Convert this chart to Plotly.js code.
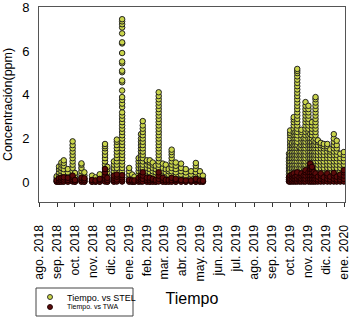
<!DOCTYPE html>
<html><head><meta charset="utf-8">
<script src="https://cdn.plot.ly/plotly-3.0.1.min.js"></script>
<style>html,body{margin:0;padding:0;background:#fff;}#chart{width:352px;height:317px;}</style>
</head><body><div id="chart"></div>
<script>
const tickVals = ['2018-08-01','2018-09-01','2018-10-01','2018-11-01','2018-12-01','2019-01-01','2019-02-01','2019-03-01','2019-04-01','2019-05-01','2019-06-01','2019-07-01','2019-08-01','2019-09-01','2019-10-01','2019-11-01','2019-12-01','2020-01-01'];
const tickLabels = ['ago. 2018','sep. 2018','oct. 2018','nov. 2018','dic. 2018','ene. 2019','feb. 2019','mar. 2019','abr. 2019','may. 2019','jun. 2019','jul. 2019','ago. 2019','sep. 2019','oct. 2019','nov. 2019','dic. 2019','ene. 2020'];
const seriesNames = ['Tiempo. vs STEL','Tiempo. vs TWA'];

const sampleDates = ['2018-08-31','2018-09-04','2018-09-08','2018-09-12','2018-09-19','2018-09-27','2018-10-01','2018-10-12','2018-10-17','2018-10-30','2018-11-05','2018-11-12','2018-11-21','2018-11-25','2018-12-06','2018-12-11','2018-12-20','2019-01-01','2019-01-06','2019-01-10','2019-01-17','2019-01-21','2019-01-24','2019-01-31','2019-02-05','2019-02-10','2019-02-15','2019-02-20','2019-02-27','2019-03-04','2019-03-09','2019-03-14','2019-03-21','2019-03-30','2019-04-07','2019-04-16','2019-04-24','2019-05-01','2019-05-06',
'2019-09-29','2019-10-01','2019-10-04','2019-10-07','2019-10-10','2019-10-13','2019-10-17','2019-10-20','2019-10-24','2019-10-27','2019-11-01','2019-11-04','2019-11-07','2019-11-10','2019-11-13','2019-11-17','2019-11-22','2019-11-27','2019-12-03','2019-12-08','2019-12-14','2019-12-19','2019-12-25','2019-12-31'];

const stelValues = [
[0.03,0.12,0.2,0.27],
[0.03,0.15,0.3,0.45,0.6,0.72],
[0.05,0.2,0.35,0.5,0.65,0.8,0.9],
[0.03,0.15,0.3,0.45,0.6,0.75,0.88,1.0],
[0.05,0.18,0.3,0.45,0.6],
[0.05,0.2,0.35,0.5,0.65,0.8,0.95,1.1,1.25,1.4,1.55,1.7,1.87],
[0.03,0.15,0.3,0.42],
[0.05,0.2,0.35,0.5,0.65,0.8,0.86],
[0.03,0.15,0.3,0.45],
[0.03,0.15,0.3],
[0.03,0.12,0.22],
[0.03,0.15,0.3,0.36],
[0.05,0.2,0.35,0.5,0.65,0.8,0.95,1.1,1.25,1.4,1.55,1.65,1.75],
[0.03,0.15,0.3,0.45,0.6,0.7],
[0.05,0.2,0.35,0.5,0.65,0.8,0.95],
[0.05,0.2,0.35,0.5,0.65,0.8,0.95,1.1,1.25,1.4,1.55,1.7,1.85,1.95],
[0.05,0.2,0.35,0.5,0.65,0.8,0.95,1.1,1.25,1.4,1.55,1.7,1.85,2.0,2.15,2.3,2.45,2.6,2.75,2.9,3.05,3.2,3.44,3.6,3.77,3.9,4.2,4.58,4.66,5.04,5.11,5.45,5.53,5.92,6.36,6.41,6.82,7.09,7.24,7.37,7.47],
[0.05,0.2,0.35,0.5,0.65],
[0.03,0.15,0.3,0.35],
[0.03,0.15,0.25],
[0.05,0.2,0.35,0.5,0.65,0.8,0.95,1.1],
[0.05,0.2,0.35,0.5,0.65,0.8,0.95,1.1,1.25,1.4,1.55,1.7,1.85,2.0,2.2],
[0.05,0.2,0.35,0.5,0.65,0.8,0.95,1.1,1.25,1.4,1.55,1.7,1.85,2.0,2.15,2.3,2.45,2.6,2.8],
[0.05,0.2,0.35,0.5,0.65,0.8,0.95,1.0],
[0.03,0.15,0.3,0.45,0.6,0.75,0.9,1.0],
[0.05,0.2,0.35,0.5,0.65,0.8,0.9],
[0.03,0.15,0.3,0.45,0.6,0.75],
[0.05,0.2,0.35,0.5,0.65,0.8,0.95,1.1,1.25,1.4,1.55,1.7,1.85,2.0,2.15,2.3,2.45,2.6,2.75,2.9,3.05,3.2,3.35,3.5,3.65,3.8,3.95,4.12],
[0.05,0.2,0.35,0.5,0.65,0.85],
[0.03,0.15,0.3,0.45,0.6,0.8],
[0.05,0.2,0.35,0.5,0.6],
[0.05,0.2,0.35,0.5,0.65,0.8,0.95,1.1,1.25,1.38,1.49],
[0.03,0.15,0.3,0.45,0.6,0.75,0.9],
[0.05,0.2,0.35,0.5,0.65,0.85],
[0.03,0.15,0.3,0.45,0.6],
[0.05,0.2,0.35,0.5],
[0.03,0.15,0.3,0.45,0.6,0.75,0.88],
[0.05,0.2,0.35,0.5],
[0.03,0.15,0.3],
[0.05,0.2,0.35,0.5,0.65,0.8,0.95,1.1,1.3],
[0.05,0.2,0.35,0.5,0.65,0.8,0.95,1.1,1.25,1.4,1.55,1.7,1.85,2.0,2.15,2.25,2.37],
[0.05,0.2,0.35,0.5,0.65,0.8,0.95,1.1,1.25,1.4,1.55,1.7,1.8],
[0.05,0.2,0.35,0.5,0.65,0.8,0.95,1.1,1.25,1.4,1.55,1.7,1.85,2.0,2.15,2.3,2.45,2.6,2.75,2.88,2.98],
[0.05,0.2,0.35,0.5,0.65,0.8,0.95,1.1,1.25,1.4,1.55,1.7,1.85,2.0,2.15,2.3],
[0.05,0.2,0.35,0.5,0.65,0.8,0.95,1.1,1.25,1.4,1.55,1.7,1.85,2.0,2.15,2.3,2.45,2.6,2.75,2.9,3.05,3.2,3.35,3.5,3.65,3.8,3.95,4.1,4.25,4.4,4.55,4.7,4.85,5.0,5.1,5.19],
[0.05,0.2,0.35,0.5,0.65,0.8,0.95,1.1,1.25,1.4,1.55,1.6],
[0.05,0.2,0.35,0.5,0.65,0.8,0.95,1.1,1.25,1.4,1.55,1.7,1.85,2.0,2.15,2.3,2.4],
[0.05,0.2,0.35,0.5,0.65,0.8,0.95,1.1,1.25,1.4,1.55,1.7,1.85,2.0],
[0.05,0.2,0.35,0.5,0.65,0.8,0.95,1.1,1.25,1.4,1.55,1.7,1.85,2.0,2.15,2.3,2.45,2.6,2.75,2.9,3.05,3.2,3.35,3.5,3.67],
[0.05,0.2,0.35,0.5,0.65,0.8,0.95,1.1,1.25,1.4,1.55,1.7,1.85,2.0,2.15,2.3,2.45,2.6,2.75,2.9,3.05,3.2,3.35,3.5],
[0.05,0.2,0.35,0.5,0.65,0.8,0.95,1.1,1.25,1.4,1.55,1.7,1.85,2.0,2.2],
[0.05,0.2,0.35,0.5,0.65,0.8,0.95,1.1,1.25,1.4,1.55,1.7,1.85,2.0,2.15,2.3,2.45,2.6,2.75],
[0.05,0.2,0.35,0.5,0.65,0.8,0.95,1.1,1.25,1.4,1.55,1.7,1.9],
[0.05,0.2,0.35,0.5,0.65,0.8,0.95,1.1,1.25,1.4,1.55,1.7,1.85,2.0,2.15,2.3,2.45,2.6,2.75,2.9,3.05,3.2,3.35,3.5,3.65,3.8,3.9],
[0.05,0.2,0.35,0.5,0.65,0.8,0.95,1.1,1.25,1.4,1.55,1.7,1.85,1.92],
[0.05,0.2,0.35,0.5,0.65,0.8,0.95,1.1,1.25,1.4,1.55,1.7,1.8],
[0.05,0.2,0.35,0.5,0.65,0.8,0.95,1.1,1.25,1.4,1.55,1.65,1.75],
[0.05,0.2,0.35,0.5,0.65,0.8,0.95,1.1,1.25,1.4,1.55,1.65,1.75],
[0.05,0.2,0.35,0.5,0.65,0.8,0.95,1.1,1.25,1.4,1.5],
[0.05,0.2,0.35,0.5,0.65,0.8,0.95,1.1,1.25,1.4,1.55,1.7,1.85,2.0,2.2],
[0.05,0.2,0.35,0.5,0.65,0.8,0.95,1.1,1.25,1.4,1.55,1.7,1.9],
[0.05,0.2,0.35,0.5,0.65,0.8,0.95,1.1,1.3],
[0.05,0.2,0.35,0.5,0.65,0.8,0.95,1.1,1.25,1.38]
];

const twaValues = [
[0.02,0.08],[0.02,0.1,0.18],[0.02,0.1,0.2],[0.03,0.12,0.22],[0.02,0.1,0.2],[0.03,0.12,0.22,0.3],[0.02,0.1],[0.02,0.1,0.2],[0.02,0.1,0.18],[0.02,0.1],[0.02,0.08],[0.02,0.1,0.15],[0.03,0.15,0.3,0.45,0.6],[0.02,0.1,0.2],[0.02,0.1,0.2,0.3],[0.03,0.12,0.25,0.35],[0.03,0.12,0.22,0.32],[0.02,0.1],[0.02,0.08],[0.02,0.08],[0.02,0.1,0.2],[0.03,0.12,0.22,0.3],[0.03,0.15,0.3,0.45],[0.02,0.1,0.2],[0.02,0.1,0.2],[0.02,0.1,0.15],[0.02,0.1],[0.03,0.15,0.3,0.45],[0.02,0.1,0.2],[0.02,0.1],[0.02,0.1],[0.02,0.1,0.2],[0.02,0.1,0.15],[0.02,0.1],[0.02,0.08],[0.02,0.08],[0.02,0.1,0.15],[0.02,0.08],[0.02,0.06],
[0.03,0.12,0.22],[0.03,0.15,0.3],[0.03,0.12,0.25,0.35],[0.03,0.15,0.3,0.4],[0.03,0.12,0.25],[0.03,0.15,0.3,0.45],[0.03,0.12,0.22],[0.03,0.15,0.3,0.4],[0.03,0.15,0.3],[0.03,0.15,0.3,0.45,0.55],[0.03,0.15,0.3,0.45],[0.03,0.15,0.3,0.45,0.6,0.75,0.85],[0.03,0.15,0.3,0.45,0.6,0.7],[0.03,0.15,0.3,0.45],[0.03,0.15,0.3,0.4],[0.03,0.12,0.25],[0.03,0.15,0.3,0.4],[0.03,0.12,0.22],[0.03,0.15,0.3,0.4],[0.03,0.12,0.25],[0.03,0.15,0.3,0.42],[0.03,0.12,0.25],[0.03,0.12,0.25,0.35],[0.03,0.15,0.3,0.45,0.55]
];

function flatten(dates, vals) {
  const x = [], y = [];
  vals.forEach((col, i) => col.forEach(v => { x.push(dates[i]); y.push(v); }));
  return {x, y};
}
const stel = flatten(sampleDates, stelValues);
const twa = flatten(sampleDates, twaValues);

const stelColor = '#c9d44a', twaColor = '#5a0b0b';
const data = [
  {type:'scatter', mode:'markers', name:seriesNames[0], x:stel.x, y:stel.y,
   marker:{size:5.5, color:stelColor, line:{color:'#222', width:1}}},
  {type:'scatter', mode:'markers', name:seriesNames[1], x:twa.x, y:twa.y,
   marker:{size:5.5, color:twaColor, line:{color:'#1a0000', width:1}}}
];

// legend drawn in paper coordinates (pixel -> paper helpers)
const PL = 39, PW = 306, PB = 202, PH = 195;
const px = v => (v - PL) / PW, py = v => (PB - v) / PH;

const layout = {
  width:352, height:317,
  margin:{l:39, r:7, t:7, b:115, autoexpand:false},
  paper_bgcolor:'#fff', plot_bgcolor:'#fff',
  font:{family:'Arial, Liberation Sans, sans-serif', color:'#000'},
  showlegend:false,
  xaxis:{type:'date', range:['2018-08-01','2020-01-02'], tickmode:'array', tickvals:tickVals, ticktext:tickLabels,
         tickangle:-90, tickfont:{size:12.3}, ticks:'outside', ticklen:4, tickcolor:'#333', ticklabelstandoff:13,
         showgrid:false, zeroline:false, showline:true, mirror:true, linecolor:'#555', linewidth:1,
         title:{text:'Tiempo', font:{size:16}, standoff:12}},
  yaxis:{range:[-0.91, 8.03], tickvals:[0,2,4,6,8], tickfont:{size:13}, ticks:'', ticklabelstandoff:6,
         showgrid:false, zeroline:false, showline:true, mirror:true, linecolor:'#555', linewidth:1,
         title:{text:'Concentración(ppm)', font:{size:12.5}, standoff:6}},
  shapes:[
    {type:'rect', xref:'paper', yref:'paper', x0:px(36), x1:px(133), y0:py(316), y1:py(288), line:{color:'#444', width:1}, fillcolor:'#fff', layer:'above'},
    {type:'circle', xref:'paper', yref:'paper', x0:px(47.5), x1:px(52.5), y0:py(299.5), y1:py(294.5), line:{color:'#222', width:0.9}, fillcolor:stelColor, layer:'above'},
    {type:'circle', xref:'paper', yref:'paper', x0:px(47.5), x1:px(52.5), y0:py(309.5), y1:py(304.5), line:{color:'#1a0000', width:0.9}, fillcolor:twaColor, layer:'above'}
  ],
  annotations:[
    {xref:'paper', yref:'paper', x:px(65), y:py(297.5), xanchor:'left', yanchor:'middle', showarrow:false, text:seriesNames[0], font:{size:9, color:'#000'}},
    {xref:'paper', yref:'paper', x:px(65), y:py(307), xanchor:'left', yanchor:'middle', showarrow:false, text:seriesNames[1], font:{size:7, color:'#000'}}
  ]
};

Plotly.newPlot('chart', data, layout, {displayModeBar:false, staticPlot:true});
</script>
</body></html>
